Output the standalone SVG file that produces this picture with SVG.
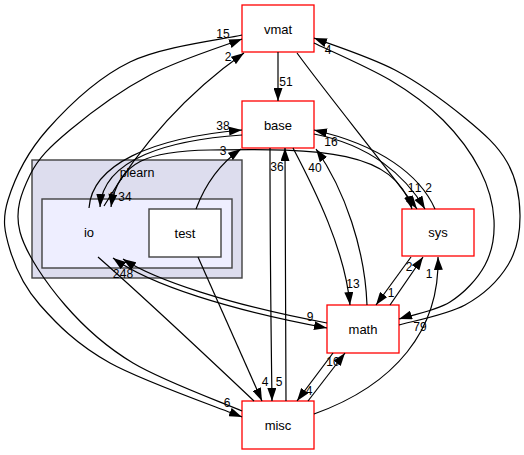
<svg xmlns="http://www.w3.org/2000/svg" width="524" height="455" viewBox="0 0 524 455">
<defs>
<marker id="ah" markerWidth="13" markerHeight="9" refX="13" refY="4.5" orient="auto" markerUnits="userSpaceOnUse"><path d="M0,0 L13,4.5 L0,9 z" fill="#000"/></marker>
<marker id="ahs" markerWidth="13" markerHeight="9" refX="13" refY="4.5" orient="auto-start-reverse" markerUnits="userSpaceOnUse"><path d="M0,0 L13,4.5 L0,9 z" fill="#000"/></marker>
</defs>
<style>
text{font-family:"Liberation Sans",Arial,sans-serif;fill:#000}
.nl{font-size:13px;text-anchor:middle}
.el{font-size:12px;text-anchor:middle}
.rb{fill:#fff;stroke:#ff0000;stroke-width:1.3}
.e{fill:none;stroke:#000;stroke-width:1.2}
.a{marker-end:url(#ah)}
</style>
<rect width="524" height="455" fill="#fff"/>
<g id="cluster_plearn">
<rect x="32" y="160" width="210" height="118" fill="#ddddee" stroke="#404040" stroke-width="1.4"/>
<text class="nl" x="137" y="177" style="font-size:12.5px">plearn</text>
</g>
<g id="node_io">
<rect x="42" y="199" width="190" height="69" fill="#eeeeff" stroke="#404040" stroke-width="1.4"/>
<text class="nl" x="89" y="237">io</text>
</g>
<g id="node_test">
<rect x="149" y="209" width="72" height="48" fill="#fff" stroke="#404040" stroke-width="1.4"/>
<text class="nl" x="185" y="237.5">test</text>
</g>
<g id="node_vmat"><rect class="rb" x="242" y="5" width="72" height="47"/><text class="nl" x="278" y="33.5">vmat</text></g>
<g id="node_base"><rect class="rb" x="242" y="101" width="72" height="47"/><text class="nl" x="278" y="129.5">base</text></g>
<g id="node_sys"><rect class="rb" x="402" y="209" width="72" height="47"/><text class="nl" x="438" y="237">sys</text></g>
<g id="node_math"><rect class="rb" x="327" y="305" width="72" height="48"/><text class="nl" x="363" y="333.5">math</text></g>
<g id="node_misc"><rect class="rb" x="242" y="401" width="72" height="48"/><text class="nl" x="278" y="429.5">misc</text></g>
<g id="edges">
<g id="e_vmat_base"><path class="e a" d="M278,52 L278,101"/><text class="el" x="286" y="85.5">51</text></g>
<g id="e_vmat_sys"><path class="e a" d="M297,53 C330,98 385,165 417,209"/><text class="el" x="418" y="192">1</text></g>
<g id="e_base_sys"><path class="e a" d="M314,134 C370,145 405,175 425,209"/><text class="el" x="428.5" y="192">2</text></g>
<g id="e_sys_base"><path class="e a" d="M435,209 C420,175 380,145 314,130"/><text class="el" x="331" y="146">16</text></g>
<g id="e_io_sys"><path class="e a" style="marker-start:url(#ahs)" d="M111,207 C118,160 150,151 210,150 C320,148 395,150 412,209"/><text class="el" x="411" y="192">1</text><text class="el" x="125" y="201">34</text></g>
<g id="e_base_io"><path class="e a" d="M242,135 C170,140 103,158 100,207"/><text class="el" x="112" y="201">6</text></g>
<g id="e_io_base"><path class="e a" d="M89,208 C92,165 150,138 242,130"/><text class="el" x="223" y="130">38</text></g>
<g id="e_io_vmat"><path class="e a" d="M104,206 Q160,112 244,53"/><text class="el" x="228" y="61">2</text></g>
<g id="e_test_base"><path class="e a" d="M196,209 C205,185 218,165 241,149"/><text class="el" x="223" y="155">3</text></g>
<g id="e_test_misc"><path class="e a" d="M198,257 L262,401"/><text class="el" x="265" y="386">4</text></g>
<g id="e_base_misc"><path class="e a" d="M270,148 C270,250 271,330 272,401"/><text class="el" x="279" y="386">5</text></g>
<g id="e_misc_base"><path class="e a" d="M286,401 C286,320 285,230 285,148"/><text class="el" x="277" y="171">36</text></g>
<g id="e_base_math"><path class="e a" d="M293,148 C315,190 345,250 350,305"/><text class="el" x="353" y="288">13</text></g>
<g id="e_math_base"><path class="e a" d="M367,305 C365,250 345,190 316,149"/><text class="el" x="315" y="172">40</text></g>
<g id="e_math_sys"><path class="e a" d="M390,305 L423,257"/><text class="el" x="409" y="271">2</text></g>
<g id="e_sys_math"><path class="e a" d="M411,257 L376,305"/><text class="el" x="391" y="297">1</text></g>
<g id="e_misc_sys"><path class="e a" d="M314,414 C395,385 440,330 438,257"/><text class="el" x="429" y="278">1</text></g>
<g id="e_misc_math"><path class="e a" d="M308,401 L345,353"/><text class="el" x="333" y="366">10</text></g>
<g id="e_math_misc"><path class="e a" d="M333,353 L297,401"/><text class="el" x="309" y="395">4</text></g>
<g id="e_vmat_math"><path class="e a" d="M314,43 C326.7,49.2 368.5,67.2 390,80 C411.5,92.8 428,105 443,120 C458,135 471.5,153.3 480,170 C488.5,186.7 493.2,204.2 494,220 C494.8,235.8 492.3,251.3 485,265 C477.7,278.7 464.3,293 450,302 C435.7,311 407.5,316.2 399,319"/><text class="el" x="420" y="331">79</text></g>
<g id="e_math_vmat"><path class="e a" d="M399,325 C410,321.7 446.8,315 465,305 C483.2,295 498.8,280 508,265 C517.2,250 520.2,232.2 520,215 C519.8,197.8 516.2,178.2 507,162 C497.8,145.8 483.7,133.3 465,118 C446.3,102.7 420.2,83.3 395,70 C369.8,56.7 327.5,43.3 314,38"/><text class="el" x="328" y="54">4</text></g>
<g id="e_vmat_misc"><path class="e a" d="M242,35 C223.3,39.5 162.5,46.2 130,62 C97.5,77.8 67.3,107 47,130 C26.7,153 14.2,180 8,200 C1.8,220 4.7,232.5 10,250 C15.3,267.5 23.3,286.2 40,305 C56.7,323.8 76.3,344.3 110,363 C143.7,381.7 220,408 242,417"/><text class="el" x="227" y="407">6</text></g>
<g id="e_misc_vmat"><path class="e a" d="M242,411 C223.8,403 162.5,380.7 133,363 C103.5,345.3 83.8,326.8 65,305 C46.2,283.2 25.8,253.7 20,232 C14.2,210.3 21.7,192 30,175 C38.3,158 50,146.7 70,130 C90,113.3 121.3,90.2 150,75 C178.7,59.8 226.7,45 242,39"/><text class="el" x="223" y="38">15</text></g>
<g id="e_io_misc"><path class="e" d="M98,257 C130,285 200,350 254,401"/></g>
<g id="e_math_io"><path class="e a" d="M327,323 C230,305 155,280 123,259"/><text class="el" x="126.5" y="278">48</text></g>
<g id="e_io_math"><path class="e a" style="marker-start:url(#ahs)" d="M113,258 C150,285 230,310 327,328"/><text class="el" x="116" y="278">2</text><text class="el" x="310" y="321">9</text></g>
</g>
</svg>
